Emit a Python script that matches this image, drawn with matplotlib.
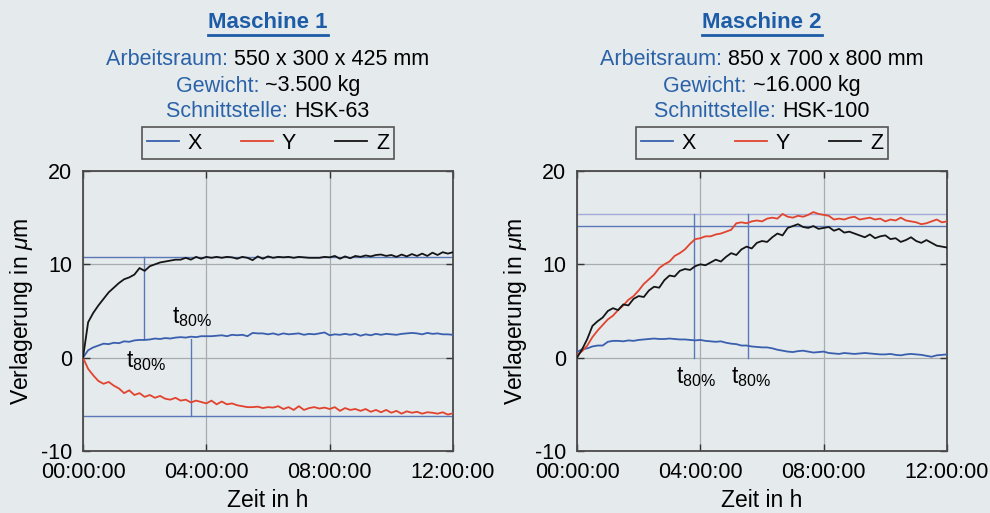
import numpy as np
import matplotlib
matplotlib.use("Agg")
import matplotlib.pyplot as plt
from matplotlib.lines import Line2D
from matplotlib.ticker import FuncFormatter

plt.rcParams["font.family"] = ["Liberation Sans", "DejaVu Sans"]
plt.rcParams["mathtext.fontset"] = "custom"
plt.rcParams["mathtext.rm"] = "Liberation Sans"
plt.rcParams["mathtext.it"] = "Liberation Sans:italic"
plt.rcParams["axes.unicode_minus"] = False

# ---- data (sampled every 10 min over 12 h) ----
time_h = np.linspace(0, 12, 73)

m1_x = [0.0, 0.8, 1.1, 1.3, 1.5, 1.45,
        1.6, 1.55, 1.75, 1.7, 1.85, 1.9,
        1.9, 1.95, 2.05, 2.0, 2.1, 2.05,
        2.15, 2.2, 2.15, 2.25, 2.2, 2.3,
        2.3, 2.3, 2.35, 2.4, 2.3, 2.45,
        2.4, 2.45, 2.3, 2.65, 2.6, 2.6,
        2.5, 2.6, 2.45, 2.6, 2.5, 2.55,
        2.6, 2.45, 2.55, 2.5, 2.6, 2.7,
        2.4, 2.5, 2.45, 2.55, 2.45, 2.55,
        2.35, 2.5, 2.4, 2.55, 2.45, 2.55,
        2.5, 2.45, 2.55, 2.6, 2.65, 2.6,
        2.5, 2.65, 2.55, 2.6, 2.5, 2.5,
        2.45]
m1_y = [0.0, -1.2, -1.9, -2.5, -2.8, -2.6,
        -3.0, -3.3, -3.8, -3.5, -4.0, -3.8,
        -4.2, -4.0, -4.3, -4.1, -4.4, -4.5,
        -4.3, -4.6, -4.5, -4.8, -4.6, -4.75,
        -4.9, -4.6, -5.0, -4.7, -5.0, -4.9,
        -5.1, -5.2, -5.3, -5.3, -5.25, -5.4,
        -5.3, -5.35, -5.2, -5.5, -5.3, -5.6,
        -5.2, -5.6, -5.4, -5.3, -5.45, -5.35,
        -5.5, -5.3, -5.7, -5.4, -5.6, -5.5,
        -5.7, -5.5, -5.8, -5.6, -5.85, -5.6,
        -5.9, -5.7, -6.0, -5.75, -5.9, -5.8,
        -6.0, -5.85, -5.9, -6.0, -5.85, -6.1,
        -5.95]
m1_z = [0.0, 3.8, 4.8, 5.6, 6.3, 7.0,
        7.5, 8.0, 8.4, 8.6, 8.9, 9.6,
        9.3, 9.8, 10.0, 10.2, 10.3, 10.4,
        10.5, 10.5, 10.7, 10.5, 10.8, 10.6,
        10.8, 10.7, 10.8, 10.7, 10.8, 10.75,
        10.6, 10.8, 10.7, 10.45, 10.85, 10.6,
        10.85, 10.7, 10.8, 10.75, 10.8, 10.7,
        10.8, 10.75, 10.7, 10.7, 10.7, 10.8,
        10.75, 10.9, 10.6, 10.85, 10.65, 10.9,
        10.8, 10.95, 10.85, 11.0, 11.05, 10.9,
        11.0, 10.8, 11.05, 10.85, 11.1, 10.9,
        11.15, 10.9, 11.25, 11.0, 11.3, 11.15,
        11.3]

m2_x = [0.6, 0.9, 1.0, 1.2, 1.3, 1.3,
        1.7, 1.8, 1.8, 1.75, 1.85, 1.8,
        1.9, 1.95, 2.0, 2.05, 2.0, 2.0,
        2.05, 2.0, 1.95, 1.95, 1.9, 1.85,
        1.9, 1.8, 1.75, 1.7, 1.75, 1.6,
        1.5, 1.45, 1.3, 1.3, 1.2, 1.15,
        1.1, 1.1, 1.0, 0.85, 0.75, 0.65,
        0.6, 0.7, 0.75, 0.65, 0.55, 0.6,
        0.65, 0.5, 0.45, 0.4, 0.5, 0.45,
        0.4, 0.45, 0.5, 0.45, 0.4, 0.35,
        0.35, 0.4, 0.3, 0.25, 0.35, 0.4,
        0.35, 0.3, 0.2, 0.1, 0.25, 0.3,
        0.35]
m2_y = [0.3, 0.7, 1.3, 2.2, 2.9, 3.5,
        4.1, 4.5, 5.1, 5.6, 6.2, 6.6,
        7.2, 7.9, 8.4, 8.9, 9.6, 10.0,
        10.3, 10.9, 11.2, 11.6, 12.2, 12.7,
        12.8, 13.0, 13.0, 13.2, 13.3, 13.5,
        13.7, 14.4, 14.5, 14.4, 14.6, 14.7,
        14.6, 14.9, 15.0, 14.9, 15.4, 15.1,
        15.0, 15.2, 15.1, 15.3, 15.6, 15.4,
        15.3, 15.2, 14.8, 14.9, 14.8, 15.0,
        15.1, 14.8, 14.9, 15.0, 14.8, 14.9,
        14.6, 14.8, 14.7, 15.0, 14.7, 14.6,
        14.5, 14.3, 14.4, 14.6, 14.8, 14.5,
        14.6]
m2_z = [0.0, 0.9, 2.0, 3.4, 3.9, 4.3,
        5.0, 5.3, 5.1, 5.7, 5.6, 6.3,
        6.6, 6.5, 7.2, 7.6, 7.5, 8.3,
        8.8, 8.7, 9.3, 9.5, 9.4, 9.8,
        10.0, 9.9, 10.2, 10.5, 10.3, 10.8,
        11.2, 11.0, 11.6, 11.9, 11.7, 12.3,
        12.5, 12.4, 12.9, 13.3, 13.1, 13.9,
        14.1, 14.3, 14.0, 13.9, 14.1, 13.8,
        13.9, 14.0, 13.6, 13.8, 13.4, 13.5,
        13.3, 13.1, 12.9, 13.2, 12.8, 13.0,
        13.1, 12.7, 12.8, 12.4, 12.6, 12.9,
        12.5, 12.3, 12.6, 12.3, 12.0, 11.9,
        11.8]

# t80% marker lines: (hline levels), (vline t, ymin, ymax), label positions
m1_hlines = [10.8, -6.25]
m1_vlines = [(1.98, 2.0, 10.8), (3.49, -6.25, 2.0)]
m1_labels = [(2.9, 4.3), (1.4, -0.4)]
m2_hlines = [15.35, 14.15]
m2_vlines = [(3.79, 0.0, 15.35), (5.56, 0.0, 15.35)]
m2_labels = [(3.22, -2.1), (4.98, -2.1)]

titles = ["Maschine 1", "Maschine 2"]
info = [
    [("Arbeitsraum: ", "550 x 300 x 425 mm"), ("Gewicht: ", "~3.500 kg"), ("Schnittstelle: ", "HSK-63")],
    [("Arbeitsraum: ", "850 x 700 x 800 mm"), ("Gewicht: ", "~16.000 kg"), ("Schnittstelle: ", "HSK-100")],
]

BG = "#e5eaed"
TITLE_BLUE = "#1d5ca6"
LABEL_BLUE = "#2a62a8"
C_X, C_Y, C_Z = "#3a5fae", "#e2432e", "#151515"
REF = "#5a77b8"

W, H = 990, 513
fig = plt.figure(figsize=(W / 100, H / 100), dpi=100, facecolor=BG)
renderer = fig.canvas.get_renderer()

def fy(px):
    return 1 - px / H

def hms(v, pos):
    return f"{int(round(v)):02d}:00:00"

panels = [
    (83, m1_x, m1_y, m1_z, m1_hlines, m1_vlines, m1_labels, ["#5a77b8", "#5a77b8"]),
    (577, m2_x, m2_y, m2_z, m2_hlines, m2_vlines, m2_labels, ["#a3acd8", "#5a77b8"]),
]

for i, (left, sx, sy, sz, hl, vl, lbl, hcols) in enumerate(panels):
    ax = fig.add_axes([left / W, 62 / H, 370 / W, 280 / H])
    ax.set_facecolor(BG)
    ax.set_xlim(0, 12)
    ax.set_ylim(-10, 20)
    ax.set_xticks([0, 4, 8, 12])
    ax.set_yticks([-10, 0, 10, 20])
    ax.xaxis.set_major_formatter(FuncFormatter(hms))
    ax.grid(True, color="#a8acae", lw=0.9)
    ax.set_axisbelow(True)
    ax.tick_params(direction="in", top=True, right=True, length=5, width=1,
                   labelsize=15.5, color="#333333", pad=8)
    for s in ax.spines.values():
        s.set_color("#4a4a4a")
        s.set_linewidth(1.3)

    for lev, c in zip(hl, hcols):
        ax.axhline(lev, color=c, lw=1.0, zorder=2)
    for t, y0, y1 in vl:
        ax.plot([t, t], [y0, y1], color=REF, lw=1.0, zorder=2)

    ax.plot(time_h, sx, color=C_X, lw=1.3, label="X", zorder=3)
    ax.plot(time_h, sy, color=C_Y, lw=1.3, label="Y", zorder=3)
    ax.plot(time_h, sz, color=C_Z, lw=1.3, label="Z", zorder=3)

    for tx, ty in lbl:
        ax.text(tx, ty, r"$\mathregular{t_{80\%}}$", fontsize=16.5, va="center", ha="left")

    ax.set_xlabel("Zeit in h", fontsize=16.5, labelpad=4)
    ax.set_ylabel(r"Verlagerung in $\mu$m", fontsize=16.5, labelpad=4)

    leg = ax.legend(loc="lower center", bbox_to_anchor=(0.5, 1.043), ncol=3,
                    fontsize=15.5, frameon=True, fancybox=False, facecolor=BG,
                    edgecolor="#555555", framealpha=1, handlelength=1.5,
                    handletextpad=0.4, columnspacing=1.8, borderpad=0.25,
                    borderaxespad=0)
    leg.get_frame().set_linewidth(1.2)

    # header text
    cx = (left + 185) / W
    title = fig.text(cx, fy(28), titles[i], fontsize=16, fontweight="bold",
                     color=TITLE_BLUE, ha="center", va="baseline")
    bb = title.get_window_extent(renderer)
    fig.add_artist(Line2D([bb.x0 / W, bb.x1 / W], [fy(35), fy(35)],
                          color=TITLE_BLUE, lw=2, transform=fig.transFigure))

    for (lab, val), base in zip(info[i], [65, 91.5, 117]):
        t1 = fig.text(0, fy(base), lab, fontsize=15.5, color=LABEL_BLUE, va="baseline")
        t2 = fig.text(0, fy(base), val, fontsize=15.5, color="black", va="baseline")
        w1 = t1.get_window_extent(renderer).width / W
        w2 = t2.get_window_extent(renderer).width / W
        x0 = cx - (w1 + w2) / 2
        t1.set_x(x0)
        t2.set_x(x0 + w1)

fig.savefig("out.png", dpi=100, facecolor=BG)
